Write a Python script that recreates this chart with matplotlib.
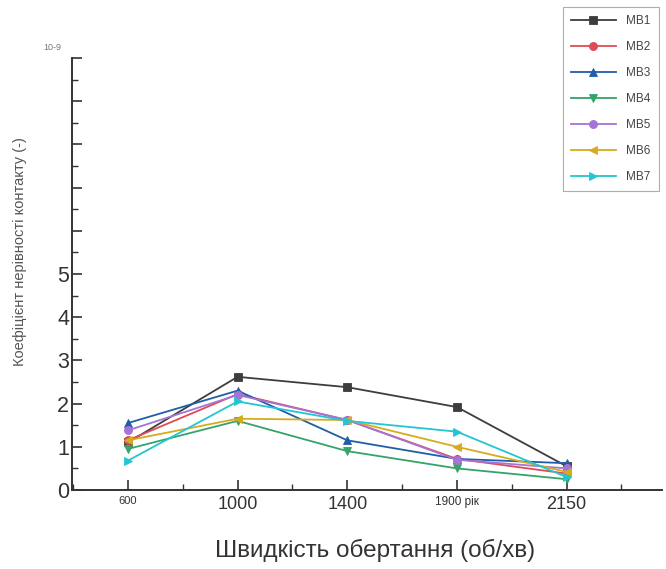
import matplotlib
matplotlib.use("Agg")
import matplotlib.pyplot as plt
from matplotlib.ticker import FixedLocator, MultipleLocator

plt.rcParams['font.family'] = ['Liberation Sans', 'DejaVu Sans']

speeds = ["600", "1000", "1400", "1900 рік", "2150"]
speed_label_sizes = [8, 13, 13, 8.5, 13]

series_names = ["MB1", "MB2", "MB3", "MB4", "MB5", "MB6", "MB7"]
mb1 = [1.10, 2.62, 2.38, 1.92, 0.55]
mb2 = [1.15, 2.22, 1.62, 0.72, 0.38]
mb3 = [1.55, 2.30, 1.15, 0.72, 0.62]
mb4 = [0.95, 1.60, 0.90, 0.50, 0.25]
mb5 = [1.38, 2.20, 1.62, 0.70, 0.50]
mb6 = [1.15, 1.65, 1.62, 1.00, 0.42]
mb7 = [0.68, 2.05, 1.60, 1.35, 0.30]
series_values = [mb1, mb2, mb3, mb4, mb5, mb6, mb7]

colors = ["#3d3d3d", "#e04a57", "#1f5ea8", "#36a36a", "#a574d6", "#d6ab1e", "#22c6d2"]
markers = ["s", "o", "^", "v", "o", "<", ">"]

y_labels = ["0", "1", "2", "3", "4", "5"]

fig = plt.figure(figsize=(6.66, 5.69), dpi=100)
ax = fig.add_axes([72/666, 79/569, (662-72)/666, (490-58)/569])

x = list(range(len(speeds)))
handles = []
for name, vals, c, m in zip(series_names, series_values, colors, markers):
    h, = ax.plot(x, vals, color=c, marker=m, markersize=5.8, linewidth=1.3,
                 label=name, markeredgewidth=0.6)
    handles.append(h)

ax.set_xlim(-0.51, 4.87)
ax.set_ylim(0, 10)

ax.spines['top'].set_visible(False)
ax.spines['right'].set_visible(False)
ax.spines['left'].set_linewidth(1.4)
ax.spines['bottom'].set_linewidth(1.4)
ax.spines['left'].set_color("#333333")
ax.spines['bottom'].set_color("#333333")

ax.xaxis.set_major_locator(FixedLocator(x))
ax.xaxis.set_minor_locator(MultipleLocator(0.5))
ax.set_xticklabels(speeds)
for lbl, fs in zip(ax.get_xticklabels(), speed_label_sizes):
    lbl.set_fontsize(fs)
    lbl.set_color("#333333")

ax.yaxis.set_major_locator(FixedLocator(range(0, 11)))
ax.yaxis.set_minor_locator(MultipleLocator(0.5))
ax.set_yticklabels(y_labels + [""] * 5, fontsize=15.5, color="#333333")

ax.tick_params(axis='both', which='major', direction='in', length=7, width=1.2, color="#333333")
ax.tick_params(axis='both', which='minor', direction='in', length=4, width=1.0, color="#333333")
ax.tick_params(axis='y', pad=2)
ax.tick_params(axis='x', pad=4)

fig.text(20/666, 1 - 252/569, "Коефіцієнт нерівності контакту (-)", rotation=90,
         ha='center', va='center', fontsize=10.5, color="#555555")
fig.text(375/666, 1 - 550/569, "Швидкість обертання (об/хв)", ha='center', va='center',
         fontsize=17.5, color="#333333")
fig.text(52/666, 1 - 48/569, "10-9", ha='center', va='center', fontsize=6.5, color="#777777")

leg = fig.legend(handles=handles, loc='upper right', bbox_to_anchor=(659/666, 1 - 7/569),
                 fontsize=8.5, frameon=True, fancybox=False, handlelength=3.8,
                 labelspacing=1.18, borderpad=0.7, handletextpad=0.9, borderaxespad=0)
leg.get_frame().set_edgecolor("#999999")
leg.get_frame().set_linewidth(0.8)
for t in leg.get_texts():
    t.set_color("#444444")

fig.savefig("out.png", dpi=100)
